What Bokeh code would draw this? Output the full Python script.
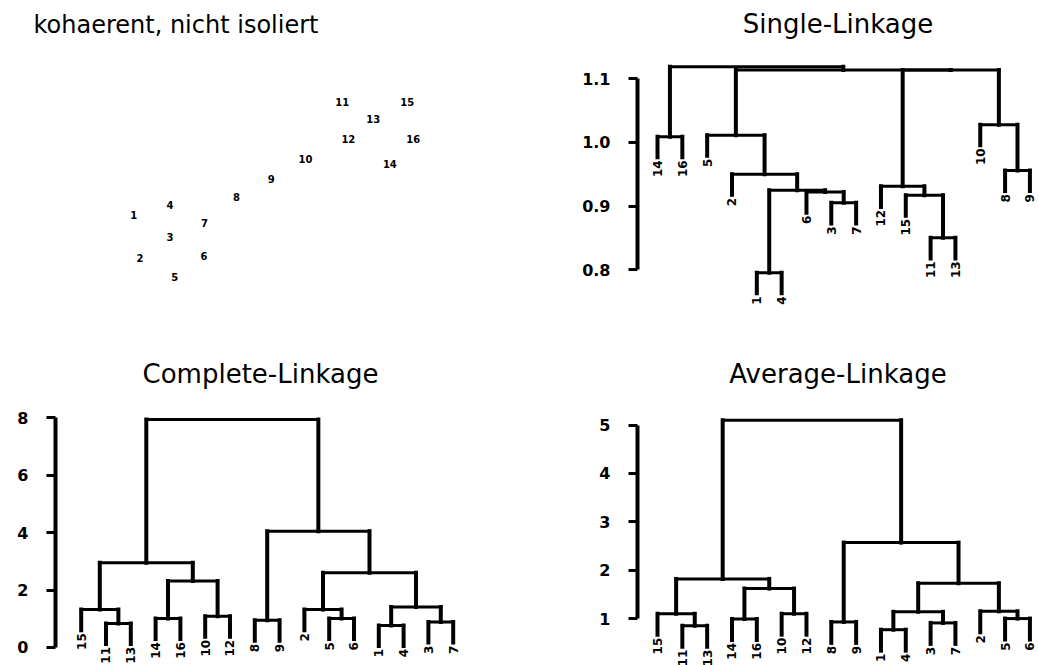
import math
from bokeh.plotting import figure
from bokeh.layouts import column, row
from bokeh.models import (ColumnDataSource, FixedTicker, PrintfTickFormatter,
                          LinearAxis, Range1d)
from bokeh.embed import file_html
from bokeh.resources import INLINE
from bokeh.core.properties import value

# ---------------- data ----------------
# scatter panel: 16 numbered points
point_labels = [str(i) for i in range(1, 17)]
point_x = [0.98, 1.16, 2.04, 2.04, 2.18, 3.04, 3.06, 4.00,
           5.02, 6.03, 7.11, 7.29, 8.02, 8.51, 9.02, 9.20]
point_y = [2.42, 1.10, 1.74, 2.71, 0.52, 1.18, 2.18, 2.96,
           3.51, 4.12, 5.83, 4.71, 5.34, 3.97, 5.83, 4.71]

# dendrograms in hclust style: negative = leaf, positive = earlier merge step
single_merge = [(-1, -4), (-11, -13), (-3, -7), (-15, 2), (-6, 3), (1, 5),
                (-12, 4), (-2, 6), (-8, -9), (-14, -16), (-5, 8), (-10, 9),
                (7, 12), (11, 13), (10, 14)]
single_height = [0.795, 0.850, 0.905, 0.917, 0.922, 0.925, 0.931, 0.950,
                 0.956, 1.009, 1.0115, 1.028, 1.114, 1.114, 1.119]
single_order = [14, 16, 5, 2, 1, 4, 6, 3, 7, 12, 15, 11, 13, 10, 8, 9]
single_ticks = [0.8, 0.9, 1.0, 1.1]

complete_merge = [(-1, -4), (-11, -13), (-3, -7), (-8, -9), (-14, -16),
                  (-5, -6), (-10, -12), (-15, 2), (-2, 6), (1, 3), (5, 7),
                  (9, 10), (8, 11), (4, 12), (13, 14)]
complete_height = [0.77, 0.84, 0.89, 0.95, 1.01, 1.01, 1.09, 1.32, 1.32,
                   1.41, 2.32, 2.60, 2.95, 4.05, 7.94]
complete_order = [15, 11, 13, 14, 16, 10, 12, 8, 9, 2, 5, 6, 1, 4, 3, 7]
complete_ticks = [0, 2, 4, 6, 8]

average_merge = [(-1, -4), (-11, -13), (-3, -7), (-8, -9), (-14, -16),
                 (-5, -6), (-15, 2), (-10, -12), (1, 3), (-2, 6), (5, 8),
                 (9, 10), (7, 11), (4, 12), (13, 14)]
average_height = [0.77, 0.85, 0.91, 0.93, 0.99, 1.00, 1.10, 1.10, 1.14,
                  1.15, 1.62, 1.73, 1.82, 2.57, 5.10]
average_order = [15, 11, 13, 14, 16, 10, 12, 8, 9, 1, 4, 3, 7, 2, 5, 6]
average_ticks = [1, 2, 3, 4, 5]

FONT = "DejaVu Sans"


def dendro(merge, height, order, hang_frac=0.1):
    pos = {leaf: i + 1 for i, leaf in enumerate(order)}
    hang = hang_frac * (max(height) - min(height))
    node_x = []
    h = dict(x0=[], x1=[], y=[])
    v = dict(x=[], y0=[], y1=[])
    lab = dict(x=[], y=[], t=[])
    for (a, b), hh in zip(merge, height):
        xs = []
        for c in (a, b):
            if c < 0:
                x = pos[-c]
                v["x"].append(x); v["y0"].append(hh - hang); v["y1"].append(hh)
                lab["x"].append(x); lab["y"].append(hh - hang); lab["t"].append(str(-c))
            else:
                x = node_x[c - 1]
                v["x"].append(x); v["y0"].append(height[c - 1]); v["y1"].append(hh)
            xs.append(x)
        h["x0"].append(xs[0]); h["x1"].append(xs[1]); h["y"].append(hh)
        node_x.append((xs[0] + xs[1]) / 2)
    return h, v, lab


def base_fig(title, w, hgt, xr, yr, mb):
    p = figure(width=w, height=hgt, x_range=Range1d(*xr), y_range=Range1d(*yr),
               output_backend="svg", toolbar_location=None,
               x_axis_location=None, y_axis_location=None, title=title,
               min_border_left=mb[0], min_border_right=mb[1],
               min_border_top=mb[2], min_border_bottom=mb[3])
    p.outline_line_color = None
    p.background_fill_color = "white"
    p.border_fill_color = "white"
    p.grid.visible = False
    p.title.text_font = FONT
    p.title.text_font_style = "normal"
    p.title.text_font_size = "26px"
    p.title.text_color = "black"
    p.title.align = "center"
    p.title.standoff = 12
    return p


def dendro_fig(title, w, hgt, xr, yr, mb, merge, height, order, ticks, fmt):
    p = base_fig(title, w, hgt, xr, yr, mb)
    hseg, vseg, lab = dendro(merge, height, order)
    p.segment(x0="x0", x1="x1", y0="y", y1="y", source=ColumnDataSource(hseg),
              line_color="black", line_width=3, line_cap="square")
    p.segment(x0="x", x1="x", y0="y0", y1="y1", source=ColumnDataSource(vseg),
              line_color="black", line_width=4, line_cap="square")
    p.text(x="x", y="y", text="t", source=ColumnDataSource(lab),
           angle=math.pi / 2, text_align="right", text_baseline="middle",
           y_offset=3, text_font=value(FONT), text_font_style="bold",
           text_font_size="12px", text_color="black")
    ax = LinearAxis(ticker=FixedTicker(ticks=ticks),
                    formatter=PrintfTickFormatter(format=fmt),
                    bounds=(ticks[0], ticks[-1]))
    ax.axis_line_width = 4
    ax.axis_line_color = "black"
    ax.major_tick_line_width = 3
    ax.major_tick_line_color = "black"
    ax.major_tick_out = 9
    ax.major_tick_in = 0
    ax.minor_tick_out = 0
    ax.minor_tick_in = 0
    ax.major_label_standoff = 18
    ax.major_label_text_font = FONT
    ax.major_label_text_font_style = "bold"
    ax.major_label_text_font_size = "16px"
    ax.major_label_text_color = "black"
    p.add_layout(ax, "left")
    return p


# ---------------- scatter panel ----------------
p1 = base_fig("kohaerent, nicht isoliert", 519, 332,
              (-100 / 34, 419 / 34), (-32 / 34, 258 / 34), (0, 0, 42, 0))
p1.title.align = "left"
p1.title.offset = 33
p1.title.text_font_size = "24px"
p1.text(x=point_x, y=point_y, text=point_labels, text_align="center",
        text_baseline="middle", text_font=value(FONT), text_font_style="bold",
        text_font_size="10px", text_color="black")

# ---------------- dendrograms ----------------
p2 = dendro_fig("Single-Linkage", 519, 332, (0.194, 16.346), (0.7120, 1.1542),
                (118, 0, 42, 7), single_merge, single_height, single_order,
                single_ticks, "%.1f")
p3 = dendro_fig("Complete-Linkage", 519, 333, (-0.036, 16.496), (-0.627, 8.811),
                (55, 54, 62, 0), complete_merge, complete_height, complete_order,
                complete_ticks, "%d")
p4 = dendro_fig("Average-Linkage", 519, 333, (0.194, 16.346), (0.030, 5.631),
                (118, 0, 62, 0), average_merge, average_height, average_order,
                average_ticks, "%d")

layout = column(row(p1, p2), row(p3, p4))
open("out.html", "w").write(file_html(layout, INLINE))
